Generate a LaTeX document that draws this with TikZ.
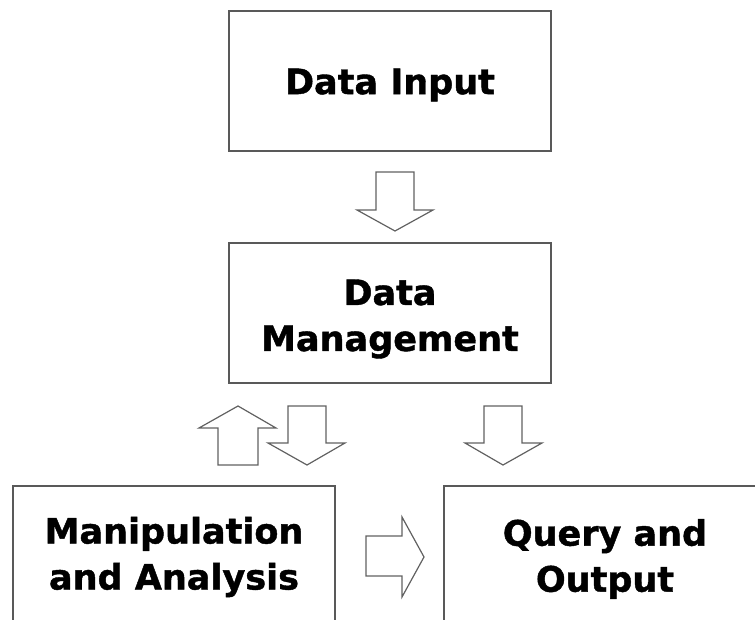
\documentclass[tikz,border=0pt]{standalone}
\usepackage{fontspec}
\setmainfont{DejaVu Sans}[BoldFeatures={FakeBold=1.2}]
\usepackage{tikz}

\tikzset{
  stage/.style={draw=black!65, line width=1.3pt, minimum width=322pt,
    minimum height=140pt},
  caption/.style={align=center, inner sep=0pt,
    font=\fontsize{35}{46}\selectfont\bfseries},
  blockarrow/.style={draw=black!62, line width=1.2pt, line join=miter, fill=white}
}

\begin{document}
\begin{tikzpicture}[x=1pt,y=-1pt]

\useasboundingbox (0,0) rectangle (755,620);
\clip (0,0) rectangle (755,620);

%% boxes
\node[stage, label={[caption, yshift=-4pt]center:Data Input}] (din) at (390,81) {};
\node[stage, label={[caption, yshift=-6pt]center:Data\\Management}] (dm) at (390,313) {};
\node[stage, label={[caption, yshift=-1pt]center:Manipulation\\and Analysis}] (ma) at (174,556) {};
\node[stage, label={[caption, yshift=-3pt]center:Query and\\Output}] (qo) at (605,556) {};

%%% block arrows
% input -> management
\draw[blockarrow] (376,172) -- (414,172) -- (414,210) -- (433,210) -- (395,231)
  -- (357,210) -- (376,210) -- cycle;
% analysis -> management
\draw[blockarrow] (238,406) -- (276,428) -- (258,428) -- (258,465) -- (218,465)
  -- (218,428) -- (199,428) -- cycle;
% management -> analysis
\draw[blockarrow] (288,406) -- (326,406) -- (326,443) -- (345,443) -- (307,465)
  -- (268,443) -- (288,443) -- cycle;
% management -> output
\draw[blockarrow] (484,406) -- (522,406) -- (522,443) -- (542,443) -- (503,465)
  -- (465,443) -- (484,443) -- cycle;
% analysis -> output
\draw[blockarrow] (366,536) -- (402,536) -- (402,517) -- (424,557) -- (402,597)
  -- (402,576) -- (366,576) -- cycle;

\end{tikzpicture}
\end{document}
